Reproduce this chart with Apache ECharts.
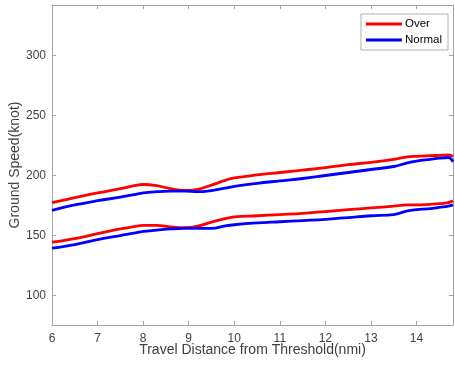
<!DOCTYPE html>
<html>
<head>
<meta charset="utf-8">
<script src="https://cdn.jsdelivr.net/npm/echarts@6/dist/echarts.min.js"></script>
<style>
  html, body { margin: 0; padding: 0; background: #fff; }
  #chart { width: 455px; height: 370px; }
</style>
</head>
<body>
<div id="chart"></div>
<script>
// Travel distance from threshold (nmi), shared by all curves
const distance = [6, 6.5, 7, 7.5, 7.8, 8, 8.3, 8.6, 8.9, 9.2, 9.5, 9.8, 10, 10.5, 11, 11.5, 12, 12.5, 13, 13.5, 13.8, 14, 14.3, 14.5, 14.7, 14.8];

// Ground speed (knot): upper and lower envelopes for each group
const overUpper   = [177.5, 181.5, 185.5, 189, 191.5, 192.5, 191.5, 189, 187.5, 188.5, 192, 196, 198, 200.5, 202.5, 204.5, 206.5, 209, 211, 213.5, 215.5, 216, 216.5, 216.8, 217.2, 216];
const overLower   = [144.5, 147.5, 151.5, 155.5, 157.5, 158.5, 158.5, 157.2, 156.5, 157.8, 161.2, 164, 165.5, 166.5, 167.5, 168.5, 170, 171.5, 173, 174.5, 175.5, 175.5, 176, 176.5, 177.5, 179];
const normalUpper = [171, 175.5, 179, 182, 184, 185.5, 186.5, 187, 187, 186.5, 187.5, 189.5, 191, 193.5, 195.5, 197.5, 200, 202.5, 205, 207.5, 210.5, 212, 213.5, 214.5, 215, 211.5];
const normalLower = [139.5, 142.5, 146.5, 150, 152, 153.5, 154.5, 155.5, 156, 156, 156, 158, 159, 160.5, 161.5, 162.5, 163.5, 165, 166.5, 167.5, 170.5, 171.5, 172.5, 173.5, 174.5, 175.5];

// Tick labels
const xTicks = [6, 7, 8, 9, 10, 11, 12, 13, 14];
const yTicks = [100, 150, 200, 250, 300];

const axisColor = '#a6a6a6';
const textColor = '#404040';
const fontFamily = 'Liberation Sans, Arial, sans-serif';

const pairs = (ys) => distance.map((x, i) => [x, ys[i]]);

const lineSeries = (name, color, ys) => ({
  name: name,
  type: 'line',
  data: pairs(ys),
  smooth: 0.4,
  showSymbol: false,
  color: color,
  lineStyle: { color: color, width: 2.8 },
  xAxisIndex: 0,
  yAxisIndex: 0
});

const chart = echarts.init(document.getElementById('chart'), null, { renderer: 'canvas' });

chart.setOption({
  animation: false,
  backgroundColor: '#ffffff',
  textStyle: { fontFamily: fontFamily },
  grid: { left: 52, top: 5, right: 2, bottom: 45, show: false, containLabel: false, outerBoundsMode: 'none' },
  legend: {
    data: ['Over', 'Normal'],
    orient: 'vertical',
    right: 7,
    top: 14,
    padding: [4, 6, 4, 5],
    itemGap: 4,
    itemWidth: 36,
    itemHeight: 3,
    icon: 'rect',
    backgroundColor: '#ffffff',
    borderColor: '#b0b0b0',
    borderWidth: 1,
    borderRadius: 0,
    textStyle: { color: '#000', fontSize: 11.5, fontFamily: fontFamily, padding: [0, 0, 0, -2] }
  },
  xAxis: [{
    type: 'value',
    min: 6,
    max: 14.8,
    position: 'bottom',
    name: 'Travel Distance from Threshold(nmi)',
    nameLocation: 'middle',
    nameGap: 18,
    nameMoveOverlap: false,
    nameTextStyle: { color: textColor, fontSize: 14, fontFamily: fontFamily },
    axisLine: { show: true, lineStyle: { color: axisColor, width: 1 } },
    axisTick: { show: true, inside: true, length: 4, customValues: xTicks, lineStyle: { color: axisColor } },
    axisLabel: { customValues: xTicks, color: textColor, fontSize: 12, margin: 8, fontFamily: fontFamily },
    splitLine: { show: false }
  }, {
    type: 'value',
    min: 6,
    max: 14.8,
    position: 'top',
    axisLine: { show: true, lineStyle: { color: axisColor, width: 1 } },
    axisTick: { show: true, inside: true, length: 4, customValues: xTicks, lineStyle: { color: axisColor } },
    axisLabel: { show: false },
    splitLine: { show: false }
  }],
  yAxis: [{
    type: 'value',
    min: 75.5,
    max: 342,
    position: 'left',
    name: 'Ground Speed(knot)',
    nameLocation: 'middle',
    nameGap: 30,
    nameMoveOverlap: false,
    nameTextStyle: { color: textColor, fontSize: 14, fontFamily: fontFamily },
    axisLine: { show: true, lineStyle: { color: axisColor, width: 1 } },
    axisTick: { show: true, inside: true, length: 4, customValues: yTicks, lineStyle: { color: axisColor } },
    axisLabel: { customValues: yTicks, color: textColor, fontSize: 12, margin: 6, fontFamily: fontFamily },
    splitLine: { show: false }
  }, {
    type: 'value',
    min: 75.5,
    max: 342,
    position: 'right',
    axisLine: { show: true, lineStyle: { color: axisColor, width: 1 } },
    axisTick: { show: true, inside: true, length: 4, customValues: yTicks, lineStyle: { color: axisColor } },
    axisLabel: { show: false },
    splitLine: { show: false }
  }],
  series: [
    lineSeries('Over', '#ff0000', overUpper),
    lineSeries('Normal', '#0000ff', normalUpper),
    lineSeries('Over', '#ff0000', overLower),
    lineSeries('Normal', '#0000ff', normalLower)
  ]
});
</script>
</body>
</html>
